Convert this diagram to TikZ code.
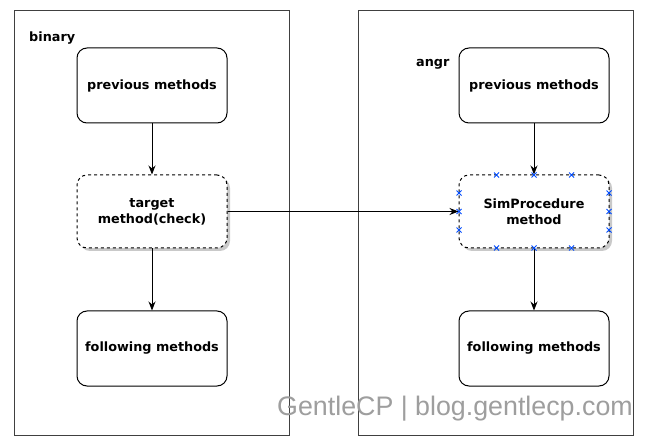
\documentclass[tikz,border=0pt]{standalone}
\usepackage{fontspec}
\setmainfont{DejaVu Sans}
\newfontfamily\wmfont{Liberation Sans}
\usetikzlibrary{arrows.meta,shadows}
\begin{document}
\begin{tikzpicture}[x=1pt,y=-1pt,
  frame/.style={draw=black!75,line width=1pt},
  box/.style={draw=black,line width=1pt,rounded corners=10pt,fill=white,minimum width=150pt,minimum height=75pt,align=center,font=\fontsize{12.8}{16}\selectfont\bfseries,inner sep=0pt},
  dbox/.style={box,dashed,minimum height=73pt,drop shadow={shadow xshift=3pt,shadow yshift=-3pt,fill=black!35,opacity=0.6}},
  arr/.style={-{Stealth[length=9pt,width=7pt]},line width=0.9pt},
  lbl/.style={font=\fontsize{12.8}{16}\selectfont\bfseries,inner sep=0pt,anchor=west},
  xmark/.style={draw=blue!70!cyan,line width=0.8pt}
]
\useasboundingbox[fill=white] (0,0) rectangle (656,446);
\draw[frame] (14,11) rectangle (289,435);
\draw[frame] (358,11) rectangle (633,435);
\node[lbl] (binary) at (29,38) {binary};
\node[lbl] (angr) at (416,64) {angr};
\node[box] (lprev) at (152,85.5) {previous methods};
\node[dbox] (ltarget) at (152,211.5) {target\\method(check)};
\node[box] (lfollow) at (152,348.5) {following methods};
\node[box] (rprev) at (534,85.5) {previous methods};
\node[dbox] (rsim) at (534,211.5) {SimProcedure\\method};
\node[box] (rfollow) at (534,348.5) {following methods};
\draw[arr] (lprev) -- (ltarget);
\draw[arr] (ltarget) -- (lfollow);
\draw[arr] (rprev) -- (rsim);
\draw[arr] (rsim) -- (rfollow);
\draw[arr] (ltarget) -- (rsim);
\foreach \p in {(496.5,175),(534,175),(571.5,175),(496.5,248),(534,248),(571.5,248),(459,193),(459,211.5),(459,230),(609,193),(609,211.5),(609,230)}{
  \draw[xmark] \p ++(-2.5,-2.5) -- ++(5,5) \p ++(-2.5,2.5) -- ++(5,-5);
}
\node[font=\wmfont\fontsize{26.8}{30}\selectfont,text=black!38,inner sep=0pt] (wm) at (455,409) {GentleCP | blog.gentlecp.com};
\end{tikzpicture}
\end{document}
